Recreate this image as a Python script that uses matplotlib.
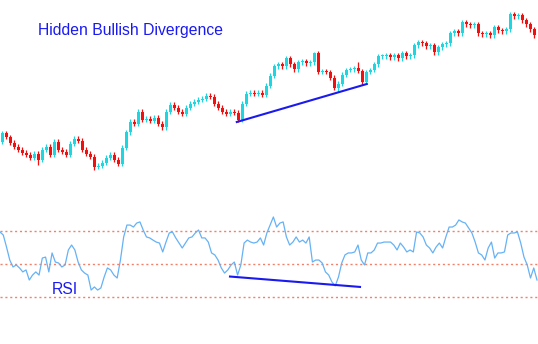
import numpy as np
import matplotlib
matplotlib.use("Agg")
import matplotlib.pyplot as plt

plt.rcParams['font.family'] = ['Liberation Sans', 'DejaVu Sans']

# closing prices, one per candle (arbitrary price units)
closes = [67, 63, 57, 53, 50, 47, 45, 42, 46, 40,
          50, 53, 45, 58, 50, 48, 45, 56, 61, 59,
          50, 46, 43, 33, 34, 37, 42, 45, 40, 36,
          52, 68, 78, 76, 88, 80, 81, 79, 82, 76,
          73, 88, 95, 92, 88, 86, 92, 96, 98, 100,
          101, 104, 103, 96, 92, 88, 86, 88, 87, 80,
          96, 106, 107, 106, 107, 105, 114, 124, 134, 136,
          134, 142, 136, 131, 138, 139, 137, 138, 147, 128,
          129, 128, 122, 112, 116, 125, 130, 131, 132, 129,
          118, 128, 130, 136, 144, 144, 145, 143, 145, 142,
          147, 144, 145, 155, 158, 157, 154, 155, 148, 153,
          156, 157, 167, 169, 167, 178, 176, 175, 176, 167,
          166, 167, 165, 173, 170, 169, 171, 186, 184, 185,
          180, 176, 171, 165]
first_open = 58
# a few candles with long shadows: index -> (high, low)
long_wicks = {9: (None, 35), 23: (None, 30), 78: (148, None),
              84: (None, 108), 89: (138, None), 90: (None, 115)}

rsi = [69.4, 67.6, 60.3, 52.4, 48.2, 49.4, 47.6, 45.2, 46.4, 40.3,
       43.3, 45.2, 43.3, 53.6, 54.2, 45.2, 56.7, 51.2, 50.6, 48.2,
       49.4, 58.5, 61.5, 58.5, 51.2, 46.4, 44.5, 43.3, 34.2, 36.1,
       34.2, 35.5, 42.1, 47.6, 46.4, 43.3, 41.5, 52.4, 66.4, 73.6,
       73.6, 72.4, 74.8, 75.5, 70.6, 66.4, 65.8, 64.5, 63.3, 62.7,
       57.3, 63.3, 68.8, 69.4, 65.8, 62.7, 59.7, 62.7, 65.8, 66.4,
       68.8, 70.6, 65.8, 65.8, 63.3, 56.7, 55.5, 52.4, 47.6, 44.5,
       46.4, 49.4, 51.2, 43.3, 49.4, 62.7, 64.5, 63.3, 62.7, 63.3,
       65.8, 61.5, 68.8,
       73.6, 78.5, 72.4, 74.8, 75.5, 66.4, 61.5, 63.3, 66.4, 63.3,
       64.5, 62.7, 66.4, 51.2, 52.4, 52.4, 50.6, 45.2, 43.3, 39.1,
       36.7, 42.1, 50.6, 55.5, 56.7, 56.7, 57.3, 61.5, 52.4, 49.4,
       56.7, 56.7, 58.5, 62.7, 62.7, 63.3, 63.3, 63.3, 61.5, 58.5,
       62.7, 60.3, 57.3, 58.5, 57.3, 69.4, 68.8, 66.4, 61.5, 59.7,
       56.7, 60.3, 62.7, 59.7, 66.4, 72.4, 72.4, 73.6, 76.7, 75.5,
       74.8, 71.8, 68.8, 63.3, 56.7, 55.5, 52.4, 59.7, 63.3, 53.6,
       56.7, 56.7, 57.3, 67.6, 68.8, 68.8, 69.4, 62.7, 54.2, 49.4,
       41.5, 47.6, 40.3]
rsi_levels = [70, 50, 30]

# divergence lines: (candle index, value) pairs
price_line = [(58.7, 78), (91.2, 116)]
rsi_line = [(57.0, 42.4), (89.5, 36.1)]

n = len(closes)
opens = [first_open] + closes[:-1]
highs, lows = [], []
for i in range(n):
    hi = max(opens[i], closes[i]) + 2.5
    lo = min(opens[i], closes[i]) - 2.5
    if i in long_wicks:
        h, l = long_wicks[i]
        hi = h if h is not None else hi
        lo = l if l is not None else lo
    highs.append(hi)
    lows.append(lo)

up_col = '#1ED6E0'
dn_col = '#F01010'
blue = '#1A1AF0'

W, H = 538, 344
fig = plt.figure(figsize=(W / 100, H / 100), dpi=100)
fig.patch.set_facecolor('white')

x = np.arange(n)
xlim = (-0.5, (W - 2) / 4)

# price panel (top 205 px)
ax = fig.add_axes([0, 1 - 205 / H, 1, 205 / H])
ax.set_xlim(*xlim)
ax.set_ylim(200 - 205, 200)
cols = [up_col if c >= o else dn_col for o, c in zip(opens, closes)]
ax.vlines(x, lows, highs, colors=cols, linewidth=0.9)
bottoms = [min(o, c) for o, c in zip(opens, closes)]
heights = [max(abs(c - o), 1.2) for o, c in zip(opens, closes)]
ax.bar(x, heights, bottom=bottoms, width=0.75, color=cols, linewidth=0)
ax.plot([p[0] for p in price_line], [p[1] for p in price_line], color=blue, lw=1.5)
ax.axis('off')

# RSI panel
ax2 = fig.add_axes([0, 14 / H, 1, 148.5 / H])
ax2.set_xlim(*xlim)
ax2.set_ylim(10, 100)
for lv in rsi_levels:
    ax2.axhline(lv, color='#F46A4E', lw=1.0, ls=(0, (1.5, 2)), alpha=0.85)
rsi_x = np.linspace(-0.5, (537 - 2) / 4, len(rsi))
ax2.plot(rsi_x, rsi, color='#66B2F5', lw=0.9)
ax2.plot([p[0] for p in rsi_line], [p[1] for p in rsi_line], color=blue, lw=1.5)
ax2.axis('off')

fig.text(38 / W, 1 - 30 / H, 'Hidden Bullish Divergence', color=blue,
         fontsize=11.3, va='center', ha='left')
fig.text(52 / W, 1 - 290 / H, 'RSI', color=blue, fontsize=11.3, va='center', ha='left')

fig.savefig('out.png', dpi=100)
